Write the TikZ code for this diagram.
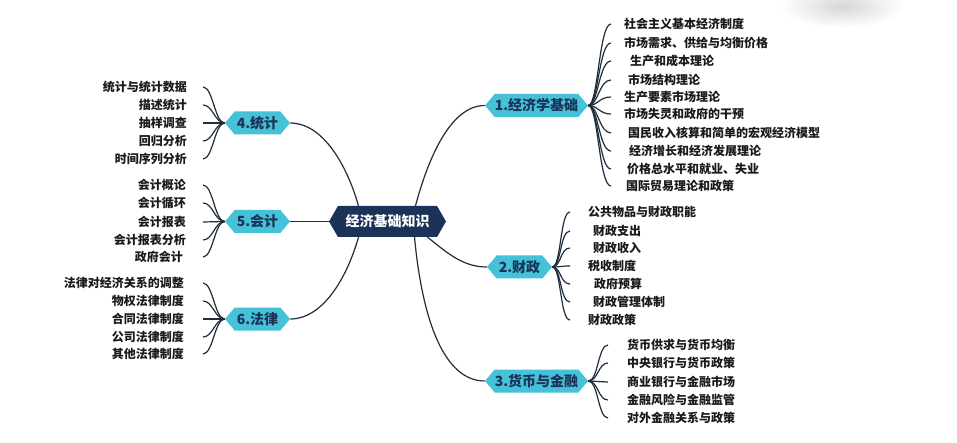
\documentclass[tikz,border=0pt]{standalone}
\usepackage{fontspec}
\newfontfamily\cjk{Noto Sans CJK SC}
\usetikzlibrary{shapes.symbols}
\definecolor{navy}{HTML}{1B3358}
\definecolor{cyanfill}{HTML}{45C1D8}
\definecolor{linec}{HTML}{1F2D3D}
\definecolor{txt}{HTML}{1A1A1A}
\tikzset{
  hexmain/.style={signal, signal to=east and west, signal pointer angle=120, fill=navy, text=white,
    minimum width=117pt, minimum height=31pt, inner sep=0pt, font=\cjk\bfseries\fontsize{14}{14}\selectfont},
  hexbranch/.style={signal, signal to=east and west, signal pointer angle=100, fill=cyanfill, text=navy,
    minimum height=23pt, inner sep=0pt, font=\cjk\bfseries\fontsize{14}{14}\selectfont},
  leafr/.style={anchor=west, inner sep=0pt, text=txt, font=\cjk\bfseries\fontsize{12}{12}\selectfont},
  leafl/.style={anchor=east, inner sep=0pt, text=txt, font=\cjk\bfseries\fontsize{12}{12}\selectfont},
  conn/.style={draw=linec, line width=1.2pt},
}
\begin{document}
\begin{tikzpicture}[x=1pt,y=-1pt]
\useasboundingbox[fill=white] (0,0) rectangle (957,443);
\shade[inner color=black!16, outer color=white] (842,6) ellipse (62 and 22);

% central and branch nodes
\node[hexmain] (cen) at (387.5,221.5) {经济基础知识};
\node[hexbranch, minimum width=103pt] (n1) at (536.5,105.5) {1.经济学基础};
\node[hexbranch, minimum width=65pt] (n2) at (519.5,267) {2.财政};
\node[hexbranch, minimum width=103pt] (n3) at (536.5,381) {3.货币与金融};
\node[hexbranch, minimum width=65pt] (n4) at (257.5,123) {4.统计};
\node[hexbranch, minimum width=65pt] (n5) at (257.5,221.5) {5.会计};
\node[hexbranch, minimum width=65pt] (n6) at (257.5,319) {6.法律};

% main connectors
\draw[conn] ([xshift=-29pt]cen.north) .. controls +(-12,-42) and +(32,0) .. (n4.east);
\draw[conn] ([xshift=28pt]cen.north) .. controls +(12,-45) and +(-35,0) .. (n1.west);
\draw[conn] (cen.west) -- (n5.east);
\draw[conn] ([xshift=-29pt]cen.south) .. controls +(-12,42) and +(32,0) .. (n6.east);
\draw[conn] ([xshift=40pt]cen.south) .. controls +(18,14) and +(-25,0) .. (n2.west);
\draw[conn] ([xshift=27pt]cen.south) .. controls +(8,85) and +(-40,0) .. (n3.west);

% ends of leaf connectors
\coordinate (e1) at (611,0);
\coordinate (e2) at (570,0);
\coordinate (e3) at (608,0);
\coordinate (e4) at (203,0);

% group 1
\node[leafr] (a1) at (624,24) {社会主义基本经济制度};
\node[leafr] (a2) at (624,43) {市场需求、供给与均衡价格};
\node[leafr] (a3) at (630,61) {生产和成本理论};
\node[leafr] (a4) at (628,80) {市场结构理论};
\node[leafr] (a5) at (624,97) {生产要素市场理论};
\node[leafr] (a6) at (624,114) {市场失灵和政府的干预};
\node[leafr] (a7) at (628,133) {国民收入核算和简单的宏观经济模型};
\node[leafr] (a8) at (629,151) {经济增长和经济发展理论};
\node[leafr] (a9) at (627,169) {价格总水平和就业、失业};
\node[leafr] (a10) at (626,186) {国际贸易理论和政策};
\foreach \i in {1,...,10}
  \draw[conn] (n1.east) .. controls +(10,0) and +(-12,0) .. (e1 |- a\i.west);

% group 2
\node[leafr] (b1) at (588,212) {公共物品与财政职能};
\node[leafr] (b2) at (593,231) {财政支出};
\node[leafr] (b3) at (593,248) {财政收入};
\node[leafr] (b4) at (588,266) {税收制度};
\node[leafr] (b5) at (594,284) {政府预算};
\node[leafr] (b6) at (593,302) {财政管理体制};
\node[leafr] (b7) at (588,320) {财政政策};
\foreach \i in {1,...,7}
  \draw[conn] (n2.east) .. controls +(9,0) and +(-10,0) .. (e2 |- b\i.west);

% group 3
\node[leafr] (c1) at (627,345) {货币供求与货币均衡};
\node[leafr] (c2) at (627,363) {中央银行与货币政策};
\node[leafr] (c3) at (627,382) {商业银行与金融市场};
\node[leafr] (c4) at (627,400) {金融风险与金融监管};
\node[leafr] (c5) at (627,418) {对外金融关系与政策};
\foreach \i in {1,...,5}
  \draw[conn] (n3.east) .. controls +(10,0) and +(-10,0) .. (e3 |- c\i.west);

% group 4
\node[leafl] (d1) at (187,87) {统计与统计数据};
\node[leafl] (d2) at (187,105) {描述统计};
\node[leafl] (d3) at (187,123) {抽样调查};
\node[leafl] (d4) at (187,141) {回归分析};
\node[leafl] (d5) at (187,159) {时间序列分析};
\foreach \i in {1,...,5}
  \draw[conn] (n4.west) .. controls +(-10,0) and +(10,0) .. (e4 |- d\i.east);

% group 5
\node[leafl] (f1) at (186,185) {会计概论};
\node[leafl] (f2) at (186,203) {会计循环};
\node[leafl] (f3) at (186,222) {会计报表};
\node[leafl] (f4) at (186,240) {会计报表分析};
\node[leafl] (f5) at (183,257) {政府会计};
\foreach \i in {1,...,5}
  \draw[conn] (n5.west) .. controls +(-10,0) and +(10,0) .. (e4 |- f\i.east);

% group 6
\node[leafl] (g1) at (184,283) {法律对经济关系的调整};
\node[leafl] (g2) at (184,301) {物权法律制度};
\node[leafl] (g3) at (184,319) {合同法律制度};
\node[leafl] (g4) at (184,337) {公司法律制度};
\node[leafl] (g5) at (184,354) {其他法律制度};
\foreach \i in {1,...,5}
  \draw[conn] (n6.west) .. controls +(-10,0) and +(10,0) .. (e4 |- g\i.east);
\end{tikzpicture}
\end{document}
